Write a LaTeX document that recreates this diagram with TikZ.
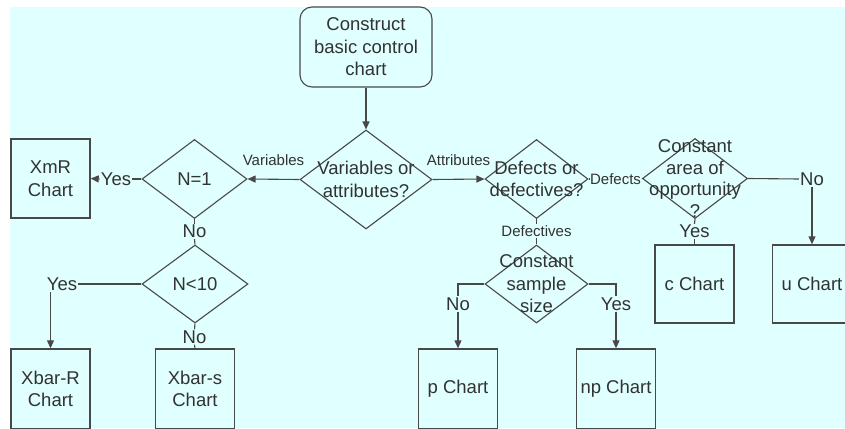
\documentclass[tikz,border=0pt]{standalone}
\usepackage{fontspec}
\setmainfont{Liberation Sans}
\usetikzlibrary{shapes.geometric,arrows.meta,calc}
\definecolor{bgc}{RGB}{224,255,255}
\definecolor{lnc}{RGB}{72,72,72}
\definecolor{txc}{RGB}{50,50,50}
\begin{document}
\begin{tikzpicture}[x=1pt,y=-1pt,
  every node/.style={text=txc},
  main/.style={font=\fontsize{18.5}{22.5}\selectfont, align=center},
  small/.style={font=\fontsize{15}{18}\selectfont},
  dia/.style={draw=lnc, line width=1.1pt, diamond, inner sep=0pt},
  box/.style={draw=lnc, line width=1.4pt, rectangle, inner sep=0pt, minimum width=79pt, main},
  lab/.style={main, fill=bgc, inner sep=1pt},
  slab/.style={small, fill=bgc, inner sep=1pt},
  conn/.style={draw=lnc, line width=1.1pt},
  arr/.style={conn, -{Triangle[length=8pt,width=7pt]}},
]
\fill[white] (0,0) rectangle (845,428);
\clip (0,0) rectangle (845,428);
\fill[bgc] (10,7) rectangle (845,428);

% start
\node[draw=lnc, line width=1.1pt, rounded corners=12pt, minimum width=132pt, minimum height=80pt, inner sep=0pt, main] (start) at (366,47) {Construct\\basic control\\chart};

% diamonds
\node[dia, minimum width=132pt, minimum height=99pt] (var) at (366,179.5) {};
\node[dia, minimum width=105pt, minimum height=79pt] (n1) at (194.5,179) {};
\node[dia, minimum width=106pt, minimum height=78pt] (n10) at (195,284) {};
\node[dia, minimum width=103pt, minimum height=79pt] (def) at (536.5,179) {};
\node[dia, minimum width=105pt, minimum height=80pt] (ca) at (695,178.5) {};
\node[dia, minimum width=103pt, minimum height=78pt] (cs) at (536.5,284) {};

% diamond texts
\node[main] (tvar) at (var) {Variables or\\attributes?};
\node[main] (tn1) at (n1) {N=1};
\node[main] (tn10) at (n10) {N<10};
\node[main] (tdef) at (def) {Defects or\\defectives?};
\node[main, font=\fontsize{18.5}{21.5}\selectfont] (tca) at (ca) {Constant\\area of\\opportunity\\?};
\node[main] (tcs) at (cs) {Constant\\sample\\size};

% boxes
\node[box, minimum height=79pt] (xmr) at (50.5,178.5) {XmR\\Chart};
\node[box, minimum height=80pt] (xbarr) at (50.5,389) {Xbar-R\\Chart};
\node[box, minimum height=80pt] (xbars) at (195,389) {Xbar-s\\Chart};
\node[box, minimum height=80pt] (pch) at (458,389) {p Chart};
\node[box, minimum height=80pt] (npch) at (616,389) {np Chart};
\node[box, minimum height=78pt] (cch) at (694.5,284) {c Chart};
\node[box, minimum height=78pt] (uch) at (812,284) {u Chart};

% labels on connectors
\node[lab] (yes1) at (116,179) {Yes};
\node[lab] (no1) at (194.5,231.5) {No};
\node[lab] (yes2) at (62,284) {Yes};
\node[lab] (no2) at (194.5,337) {No};
\node[slab] (dl) at (615.5,179) {Defects};
\node[lab] (no4) at (812,179) {No};
\node[lab] (yes4) at (694.5,231.5) {Yes};
\node[slab] (dfl) at (536.5,231) {Defectives};
\node[lab] (no3) at (458,304) {No};
\node[lab] (yes3) at (616,304) {Yes};

% connectors
\draw[arr] (start) -- (var);
\draw[arr] (var.west) -- node[small, midway, above=13pt, inner sep=0pt] {Variables} (n1.east);
\draw[arr] (var.east) -- node[small, midway, above=13pt, inner sep=0pt] {Attributes} (def.west);
\draw[conn] (n1.west) -- (yes1.east);
\draw[arr] (yes1.west) -- (xmr.east);
\draw[conn] (n1.south) -- (no1.north);
\draw[conn] (no1.south) -- (n10.north);
\draw[conn] (n10.west) -- (yes2.east);
\draw[arr] (yes2.south -| xbarr.north) -- (xbarr.north);
\draw[conn] (n10.south) -- (no2.north);
\draw[conn] (no2.south) -- (xbars.north);
\draw[conn] (def.east) -- (dl.west);
\draw[conn] (dl.east) -- (ca.west);
\draw[conn] (ca.east) -- (no4.west);
\draw[arr] (no4.south -| uch.north) -- (uch.north);
\draw[conn] (ca.south) -- (yes4.north);
\draw[conn] (yes4.south) -- (cch.north);
\draw[conn] (def.south) -- (dfl.north);
\draw[conn] (dfl.south) -- (cs.north);
\draw[conn] (cs.west) -| (no3.north);
\draw[arr] (no3.south) -- (pch.north);
\draw[conn] (cs.east) -| (yes3.north);
\draw[arr] (yes3.south) -- (npch.north);
\end{tikzpicture}
\end{document}
